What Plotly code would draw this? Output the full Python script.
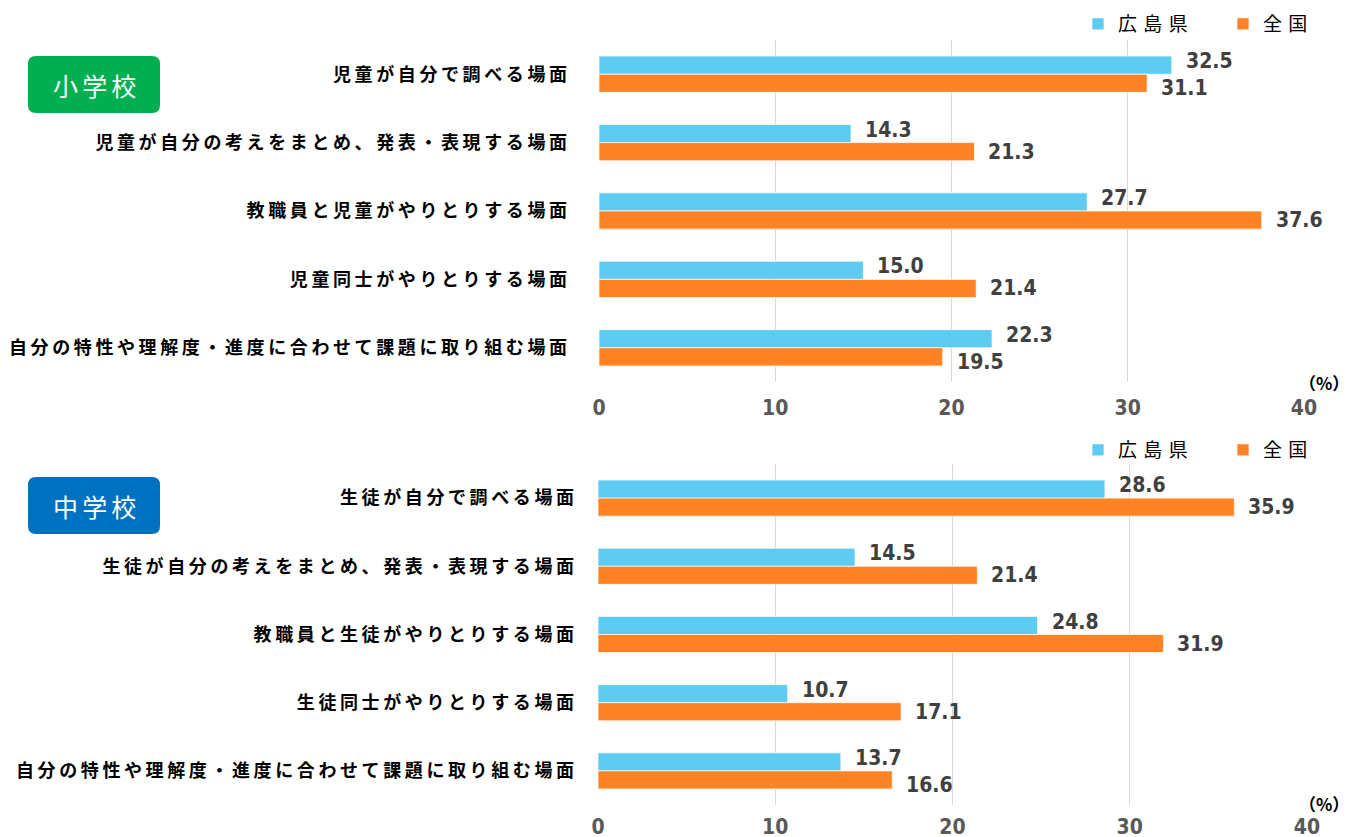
import plotly.graph_objects as go

W, H = 1352, 837
PAGE_OFFSET = 8  # the html body margin shifts the figure by this much

# --- data -------------------------------------------------------------
series_names = ["広島県", "全国"]

es_categories = [
    "児童が自分で調べる場面",
    "児童が自分の考えをまとめ、発表・表現する場面",
    "教職員と児童がやりとりする場面",
    "児童同士がやりとりする場面",
    "自分の特性や理解度・進度に合わせて課題に取り組む場面",
]
es_hiroshima = [32.5, 14.3, 27.7, 15.0, 22.3]
es_national = [31.1, 21.3, 37.6, 21.4, 19.5]

jh_categories = [
    "生徒が自分で調べる場面",
    "生徒が自分の考えをまとめ、発表・表現する場面",
    "教職員と生徒がやりとりする場面",
    "生徒同士がやりとりする場面",
    "自分の特性や理解度・進度に合わせて課題に取り組む場面",
]
jh_hiroshima = [28.6, 14.5, 24.8, 10.7, 13.7]
jh_national = [35.9, 21.4, 31.9, 17.1, 16.6]

x_ticks = [0, 10, 20, 30, 40]

BLUE = "#5ECBF3"
ORANGE = "#FF8224"
JP_FONT = "Noto Sans CJK JP"
NUM_FONT = "DejaVu Sans Condensed, Roboto Condensed, Roboto, sans-serif"


def X(px):
    return (px - PAGE_OFFSET) / W


def Y(py):
    return 1 - (py - PAGE_OFFSET) / H


def spaced(s, gap="\u2009"):
    # mimic the wide letter spacing of the original labels
    return gap.join(s)


def rounded_rect(x0, y0, x1, y1, r):
    return (
        f"M{X(x0 + r)},{Y(y0)} L{X(x1 - r)},{Y(y0)} Q{X(x1)},{Y(y0)} {X(x1)},{Y(y0 + r)} "
        f"L{X(x1)},{Y(y1 - r)} Q{X(x1)},{Y(y1)} {X(x1 - r)},{Y(y1)} "
        f"L{X(x0 + r)},{Y(y1)} Q{X(x0)},{Y(y1)} {X(x0)},{Y(y1 - r)} "
        f"L{X(x0)},{Y(y0 + r)} Q{X(x0)},{Y(y0)} {X(x0 + r)},{Y(y0)} Z"
    )


fig = go.Figure()

panels = [
    (es_categories, es_hiroshima, es_national, "x", "y", "legend"),
    (jh_categories, jh_hiroshima, jh_national, "x2", "y2", "legend2"),
]
for cats, hiro, nat, xa, ya, leg in panels:
    for name, vals, color in zip(series_names, [hiro, nat], [BLUE, ORANGE]):
        fig.add_trace(go.Bar(
            name=spaced(name, "\u2004"),
            y=cats,
            x=vals,
            orientation="h",
            xaxis=xa,
            yaxis=ya,
            legend=leg,
            marker=dict(color=color, line=dict(color="rgba(255,255,255,0.7)", width=1)),
            hoverinfo="skip",
        ))
    # value labels, nudged apart like the original data labels
    for cat, h, n in zip(cats, hiro, nat):
        close = abs(h - n) < 5
        for val, ys in [(h, 13), (n, -14 if close else -9)]:
            fig.add_annotation(
                x=val, y=cat, xref=xa, yref=ya,
                text=f"{val:.1f}", showarrow=False,
                xanchor="left", yanchor="middle", xshift=12, yshift=ys,
                font=dict(family=NUM_FONT, size=21, color="#404040", weight="bold"),
            )

xaxis_common = dict(
    range=[0, 40],
    tickvals=x_ticks,
    showgrid=True,
    gridcolor="#d9d9d9",
    gridwidth=1,
    zeroline=False,
    showline=False,
    ticks="",
    automargin=False,
    tickfont=dict(family=NUM_FONT, size=21, color="#595959", weight="bold"),
)
yaxis_common = dict(
    autorange="reversed",
    showgrid=False,
    zeroline=False,
    showline=False,
    ticks="",
    automargin=False,
    tickfont=dict(family=JP_FONT, size=18, color="#000000", weight="bold"),
)

legend_common = dict(
    orientation="h", xanchor="left", yanchor="top",
    font=dict(family=JP_FONT, size=19, color="#000000"),
    bgcolor="rgba(0,0,0,0)", entrywidth=100, itemwidth=30,
)

fig.update_layout(
    width=W,
    height=H,
    margin=dict(l=0, r=0, t=0, b=0, autoexpand=False),
    paper_bgcolor="white",
    plot_bgcolor="white",
    barmode="group",
    bargap=0.47,
    bargroupgap=0,
    xaxis=dict(domain=[X(599), X(1304)], anchor="y", ticklabelstandoff=11, **xaxis_common),
    yaxis=dict(domain=[Y(382), Y(40)], anchor="x",
               tickvals=es_categories, ticktext=[spaced(c) for c in es_categories],
               ticklabelstandoff=31, **yaxis_common),
    xaxis2=dict(domain=[X(598), X(1307)], anchor="y2", ticklabelstandoff=7, **xaxis_common),
    yaxis2=dict(domain=[Y(805), Y(464)], anchor="x2",
                tickvals=jh_categories, ticktext=[spaced(c) for c in jh_categories],
                ticklabelstandoff=23, **yaxis_common),
    legend=dict(x=X(1078), y=Y(5), **legend_common),
    legend2=dict(x=X(1078), y=Y(431), **legend_common),
    showlegend=True,
)

# school badges
for label, color, y0 in [("小学校", "#00AF50", 56), ("中学校", "#0070C0", 477)]:
    fig.add_shape(type="path", xref="paper", yref="paper",
                  path=rounded_rect(28, y0, 160, y0 + 57, 8),
                  fillcolor=color, line=dict(width=0))
    fig.add_annotation(x=X(94), y=Y(y0 + 28.5), xref="paper", yref="paper",
                       text=spaced(label, "\u2006"), showarrow=False,
                       font=dict(family=JP_FONT, size=25, color="white"),
                       xanchor="center", yanchor="middle")

for xpx, ypx in [(1324, 382), (1324, 803)]:
    fig.add_annotation(x=X(xpx), y=Y(ypx), xref="paper", yref="paper",
                       text="（%）", showarrow=False,
                       font=dict(family=JP_FONT, size=17, color="#000000", weight="bold"),
                       xanchor="center", yanchor="middle")

fig.write_html("out.html")
